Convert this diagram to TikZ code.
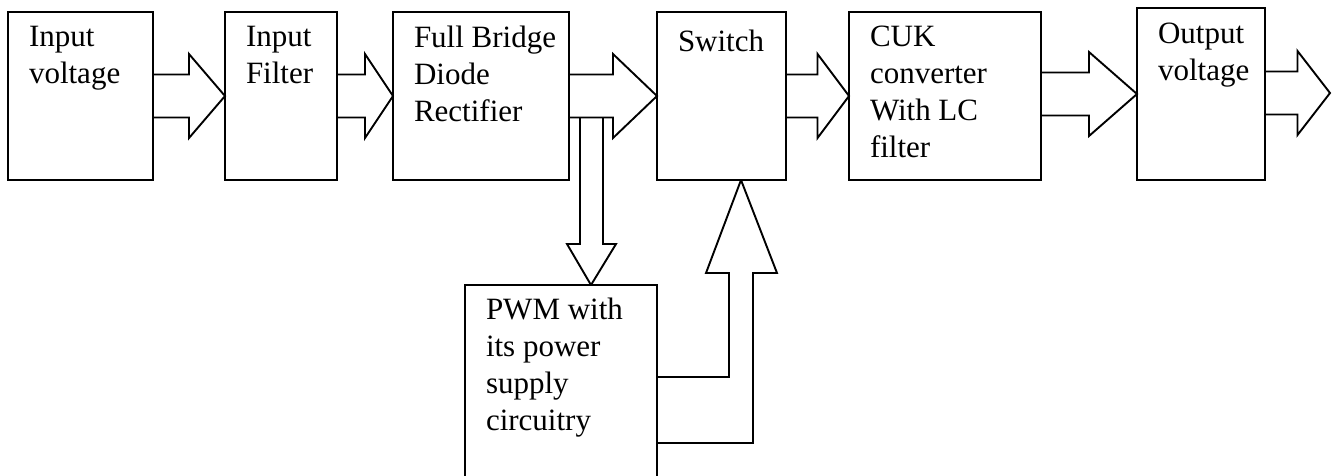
\documentclass[tikz,border=0pt]{standalone}
\usepackage{fontspec}
\setmainfont{Liberation Serif}
\usetikzlibrary{calc}

\tikzset{
  blk/.style={draw, line width=1.9pt, line join=miter},
  box/.style={blk, rectangle, outer sep=0pt, inner sep=0pt},
  % first line gets a fixed 25pt height so the north anchor sits 25pt above its baseline
  lbl/.style={anchor=north west, align=left, inner sep=0pt, outer sep=0pt,
              font={\fontsize{31}{37}\selectfont},
              execute at begin node={\rule{0pt}{25pt}}},
}

% Block arrow from the east side of one box to a target point
\newcommand\flowarrow[2]{%
  \draw[blk] let \p1=(#1.east), \p2=(#2), \n1={(\x1+\x2)/2} in
    (\x1,\y2+21.5pt) -- (\n1,\y2+21.5pt) -- (\n1,\y2+42pt) -- (\x2,\y2)
    -- (\n1,\y2-42pt) -- (\n1,\y2-21.5pt) -- (\x1,\y2-21.5pt);}

\begin{document}
\begin{tikzpicture}[x=1pt, y=-1pt]
  \clip (0,0) rectangle (1335,475);
  \fill[white] (0,0) rectangle (1335,475);

  % blocks
  \node[box, minimum width=145, minimum height=168] (vin)  at (80.5,96)  {};
  \node[box, minimum width=112, minimum height=168] (filt) at (281,96)   {};
  \node[box, minimum width=176, minimum height=168] (rect) at (481,96)   {};
  \node[box, minimum width=129, minimum height=168] (sw)   at (721.5,96) {};
  \node[box, minimum width=192, minimum height=168] (cuk)  at (945,96)   {};
  \node[box, minimum width=128, minimum height=172] (vout) at (1201,94)  {};
  \node[box, minimum width=192, minimum height=240] (pwm)  at (561,405)  {};

  % block captions (first baseline 39pt below the box top)
  \node[lbl] (vint)  at ($(vin.north west)+(21,14)$)  {Input\\voltage};
  \node[lbl] (filtt) at ($(filt.north west)+(21,14)$) {Input\\Filter};
  \node[lbl] (rectt) at ($(rect.north west)+(21,14)$) {Full Bridge\\Diode\\Rectifier};
  \node[lbl] (swt)   at ($(sw.north west)+(21,14)$)   {Switch};
  \node[lbl] (cukt)  at ($(cuk.north west)+(21,14)$)  {CUK\\converter\\With LC\\filter};
  \node[lbl] (voutt) at ($(vout.north west)+(21,15)$) {Output\\voltage};
  \node[lbl] (pwmt)  at ($(pwm.north west)+(21,13)$)  {PWM with\\its power\\supply\\circuitry};

  % main power path
  \coordinate (outtip) at ($(vout.east)+(65,-1)$);
  \flowarrow{vin}{filt.west}
  \flowarrow{filt}{rect.west}
  \flowarrow{rect}{sw.west}
  \flowarrow{sw}{cuk.west}
  \flowarrow{cuk}{vout.west}
  \flowarrow{vout}{outtip}

  % supply tap from the rectifier output down to the PWM block
  \coordinate (dtip) at ($(pwm.north)+(30,0)$);
  \draw[blk] (dtip) -- ++(-24,-41) -- ++(13,0) -- ++(0,-127)
             ++(23,0) -- ++(0,127) -- ++(13,0) -- (dtip);

  % gate drive from the PWM block up to the switch
  \coordinate (utip) at ($(sw.south)+(19.5,0)$);
  \draw[blk] (utip) -- ++(-35,93) -- ++(23,0) -- ++(0,104) -- ++(-72,0);
  \draw[blk] (utip) -- ++(36,93) -- ++(-24,0) -- ++(0,170) -- ++(-96,0);
\end{tikzpicture}
\end{document}
